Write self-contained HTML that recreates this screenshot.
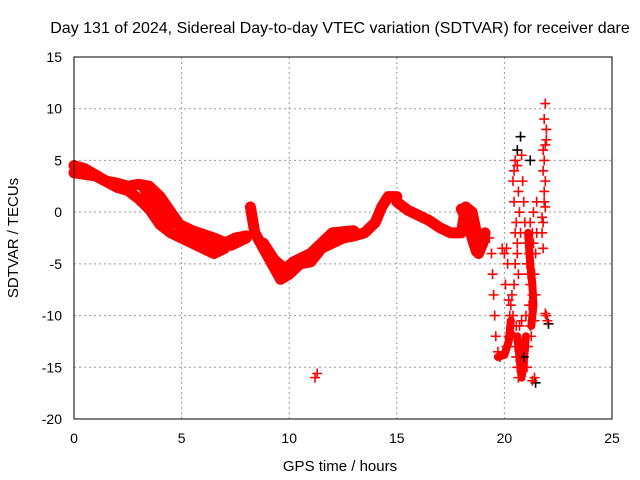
<!DOCTYPE html>
<html><head><meta charset="utf-8"><style>
body{margin:0;background:#fff;}
svg{display:block;font-family:"Liberation Sans",sans-serif;}
</style></head><body>
<svg id="chart" width="640" height="480">
<rect width="640" height="480" fill="#fff"/>
<text x="340" y="33" font-size="16" text-anchor="middle">Day 131 of 2024, Sidereal Day-to-day VTEC variation (SDTVAR) for receiver dare</text>
<g id="grid"></g><g id="ticks"></g><g id="marks"></g>
<rect x="74" y="57" width="538" height="362" fill="none" stroke="#000"/>
<text x="340" y="471" font-size="15" text-anchor="middle">GPS time / hours</text>
<text x="18" y="238" font-size="15" text-anchor="middle" transform="rotate(-90 18 238)">SDTVAR / TECUs</text>
</svg>
<script>
const xTicks=[0,5,10,15,20,25];
const yTicks=[15,10,5,0,-5,-10,-15,-20];
const trackA=[[0,4.5],[0.5,4.2],[1,3.6],[1.5,3],[2,2.8],[2.5,2.5],[3,2.7],[3.5,2.5],[4,1.5],[4.5,0],[5,-1.5],[5.5,-2],[6,-2.8],[6.5,-3],[7,-3],[7.5,-2.5],[8,-2.3]];
const trackB=[[0,3.8],[1,3.5],[2,2.4],[2.5,2.1],[3,1.3],[3.5,0.3],[4,-1.2],[4.5,-2],[5,-2.5],[5.5,-3],[6,-3.5],[6.5,-4],[7,-3.5]];
const trackC=[[3.2,2.5],[3.8,0.5],[4.5,-0.8],[5.5,-1.8],[6.5,-2.5],[7.3,-3.2],[8,-2.5]];
const trackD=[[8.2,0.5],[8.4,-2],[8.8,-3.5],[9.2,-5],[9.6,-6.5],[10,-6],[10.5,-5],[11,-4.8],[11.5,-3.5],[12,-3],[12.5,-2.5],[13,-2.3],[13.5,-2],[14,-1],[14.3,0.5],[14.6,1.5],[15,1.5]];
const trackE=[[15,1],[15.5,0.2],[16,-0.3],[16.5,-0.8],[17,-1.5],[17.5,-2],[18,-2],[18.2,0.5],[18.5,0],[18.7,-2],[18.8,-4],[19,-3],[19.1,-2]];
const trackF=[[8.8,-3],[9.3,-4.6],[9.8,-5.5],[10.2,-4.8],[11,-4],[12,-2],[13,-1.8]];
const trackG=[[18,0.3],[18.3,-1],[18.5,-2.5],[18.7,-3.8]];
const trackH=[[19.7,-14],[20,-13.8],[20.2,-12.5],[20.3,-10.5]];
const trackI=[[20.6,-12],[20.7,-14],[20.8,-16],[20.9,-14.5],[21,-12]];
const trackJ=[[21.1,-2],[21.2,-5],[21.3,-7],[21.35,-9],[21.25,-11]];
const scatterPts=[[11.2,-16],[11.3,-15.6],[19.3,-2.5],[19.4,-4],[19.45,-6],[19.5,-8],[19.55,-10],[19.6,-12],[19.7,-13.5],[19.8,-14],[20,-13.5],[20.1,-13],[20.2,-12],[20.25,-10],[20.3,-9],[19.9,-3.5],[20,-4],[20.1,-3.5],[20.15,-5],[20.2,-8.5],[20.05,-7],
[20.4,3],[20.45,1],[20.5,5],[20.55,-1],[20.6,-3],[20.5,-5],[20.45,-7],[20.4,-10],[20.45,-12],[20.5,-13],[20.55,-14],[20.6,-15],[20.65,-16],[20.7,-15],[20.75,-13],[20.7,-11],[20.8,-10.5],[20.6,4.5],[20.65,2],[20.7,0],[20.75,-2],[20.8,5.5],[20.85,3],[20.9,1],[20.5,-2],[20.6,-4],[20.35,-8],[20.55,-11],[20.45,4],[20.65,-6],
[20.95,-1],[21,-3],[21.05,-5],[21.1,-6],[21.15,-4],[21.2,-7],[21.25,-9],[21.3,-2],[21.35,0],[21.3,-8],[21.2,-11],[21.1,-13],[21.05,-15],[21.3,-16.3],[21.4,-16],[21.4,-6],[21.45,-4],[21.5,-2],[21.45,-8],[21.0,-10],[21.15,-9],[21.25,-12],[21.35,-3],[21.2,-1],[21.5,1],[21.4,-10.5],
[21.85,9],[21.9,10.5],[21.95,7],[21.8,6],[21.85,5],[21.9,3],[21.85,1],[21.8,-1],[21.75,-2],[21.8,-3.5],[21.9,0.5],[21.95,-10],[22,-10.5],[21.9,-9.8],[21.95,8],[21.8,4],[21.9,6.5],[21.75,-0.5],[21.85,2]];
const blackPts=[[20.75,7.3],[20.6,6],[21.2,5],[20.9,-14],[21.45,-16.5],[22.05,-10.8]];
const X=h=>74+h*538/25, Y=v=>57+(15-v)*362/35;
const NS='http://www.w3.org/2000/svg';
const g=id=>document.getElementById(id);
function mk(tag,attrs,parent){const e=document.createElementNS(NS,tag);for(const k in attrs)e.setAttribute(k,attrs[k]);parent.appendChild(e);return e;}
xTicks.forEach(t=>{
 const l=mk('line',{x1:X(t),x2:X(t),y1:57,y2:419,stroke:'#999','stroke-dasharray':'2,3'},g('grid'));
 
 
 const tx=mk('text',{x:X(t),y:443,'font-size':14,'text-anchor':'middle'},g('ticks'));tx.textContent=t;
 
 
});
yTicks.forEach(t=>{
 const l=mk('line',{x1:74,x2:612,y1:Y(t),y2:Y(t),stroke:'#999','stroke-dasharray':'2,3'},g('grid'));
 
 
 const tx=mk('text',{x:62,y:Y(t)+5,'font-size':14,'text-anchor':'end'},g('ticks'));tx.textContent=t;
 
 
});
function plus(p,color){
 const x=X(p[0]),y=Y(p[1]);
 const e=mk('path',{d:`M${x-5} ${y}H${x+5}M${x} ${y-5}V${y+5}`,stroke:color,'stroke-width':1.6},g('marks'));
 
 
}
[trackA,trackB,trackC,trackD,trackE,trackF,trackG].forEach(tr=>{
 const pl=mk('polyline',{points:tr.map(p=>X(p[0])+','+Y(p[1])).join(' '),fill:'none',stroke:'#f00','stroke-width':11,'stroke-linejoin':'round','stroke-linecap':'round'},g('marks'));
 
 
 tr.forEach(p=>plus(p,'#f00'));
});
[trackH,trackI,trackJ].forEach(tr=>{
 const pl=mk('polyline',{points:tr.map(p=>X(p[0])+','+Y(p[1])).join(' '),fill:'none',stroke:'#f00','stroke-width':8,'stroke-linejoin':'round','stroke-linecap':'round'},g('marks'));
 
 
});
blackPts.forEach(p=>plus(p,'#000'));
scatterPts.forEach(p=>plus(p,'#f00'));
</script>
</body></html>
